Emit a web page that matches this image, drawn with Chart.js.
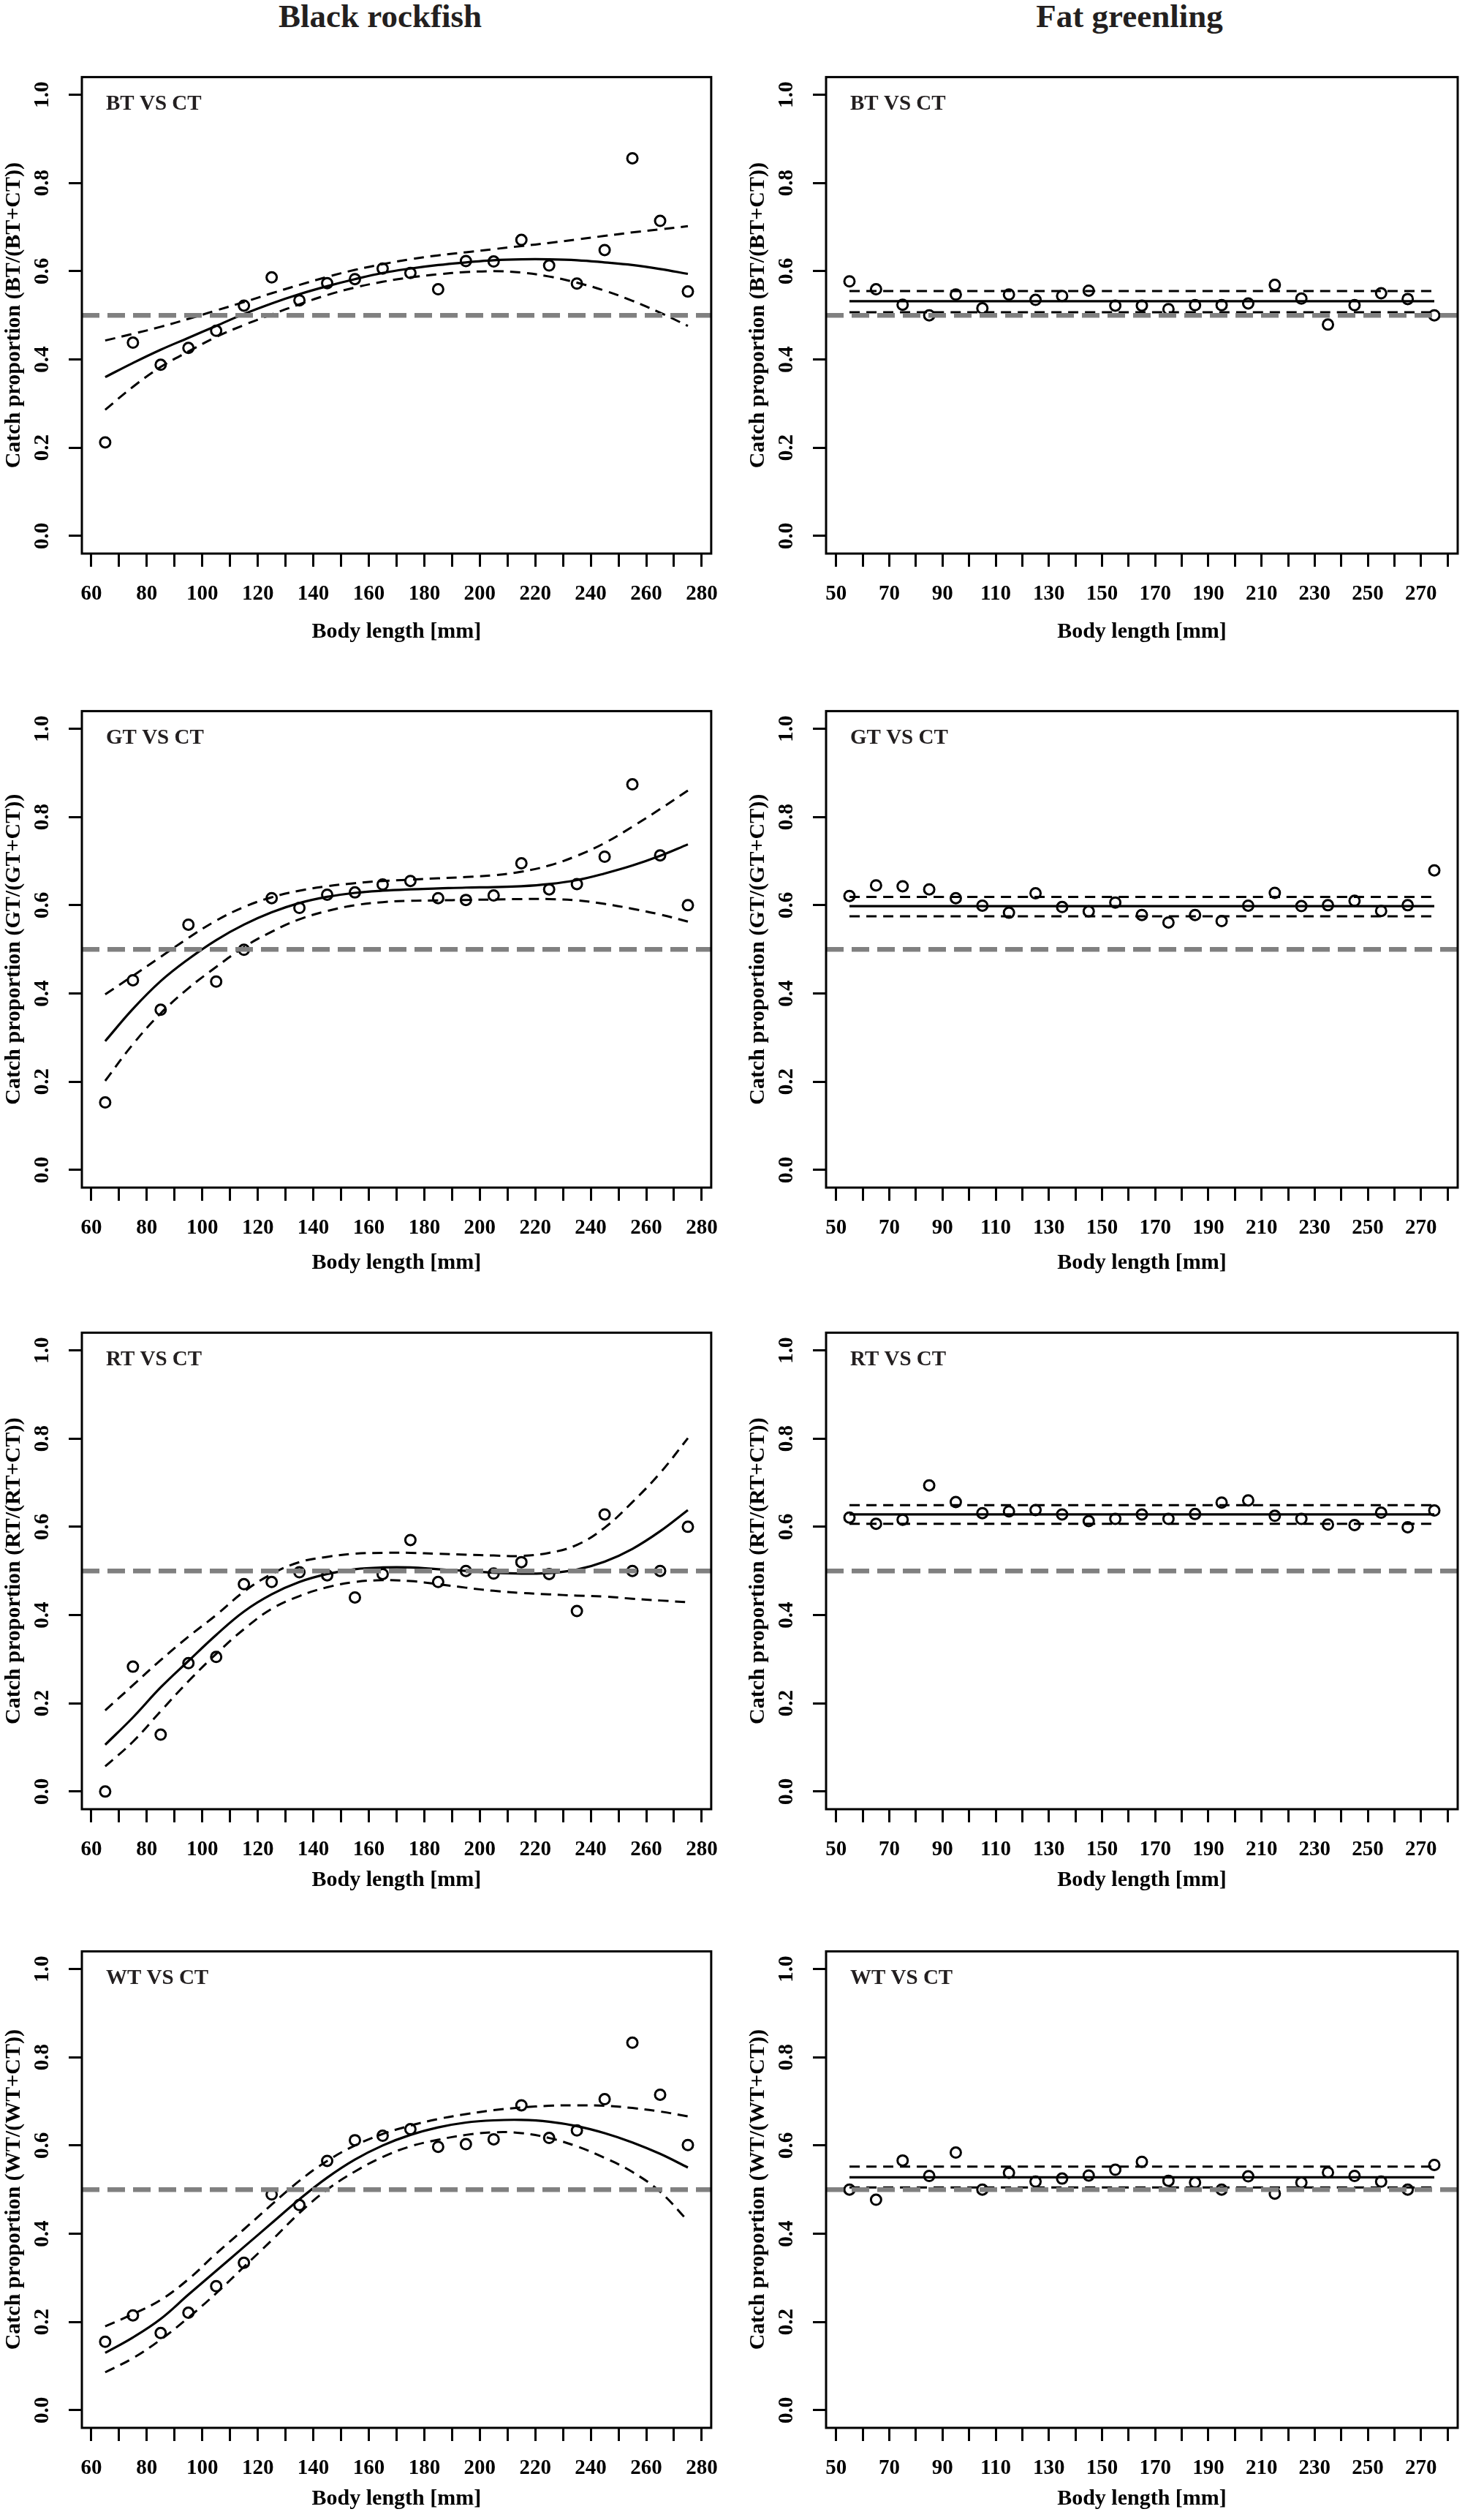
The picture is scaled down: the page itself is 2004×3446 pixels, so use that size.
<!DOCTYPE html>
<html>
<head>
<meta charset="utf-8">
<script src="https://cdn.jsdelivr.net/npm/chart.js@4.4.1/dist/chart.umd.min.js"></script>
<style>
  html, body { margin: 0; padding: 0; background: #fff; overflow: hidden; width: 2004px; height: 3446px; }
  canvas.panel { position: absolute; }
  .coltitle { position: absolute; top: 0; font: bold 45px/45px 'Liberation Serif', 'Times New Roman', serif;
              color: #231f20; white-space: nowrap; transform: translateX(-50%); }
</style>
</head>
<body>
<div class="coltitle" style="left:520px">Black rockfish</div>
<div class="coltitle" style="left:1545px">Fat greenling</div>
<script>
// body length classes (mm)
const lengthBR = [65, 75, 85, 95, 105, 115, 125, 135, 145, 155, 165, 175, 185, 195, 205, 215, 225, 235, 245, 255, 265, 275];
const lengthFG = [55, 65, 75, 85, 95, 105, 115, 125, 135, 145, 155, 165, 175, 185, 195, 205, 215, 225, 235, 245, 255, 265, 275];

// axis ticks
const xTicksBR = [60, 70, 80, 90, 100, 110, 120, 130, 140, 150, 160, 170, 180, 190, 200, 210, 220, 230, 240, 250, 260, 270, 280];
const xLabelsBR = [60, 80, 100, 120, 140, 160, 180, 200, 220, 240, 260, 280];
const xTicksFG = [50, 60, 70, 80, 90, 100, 110, 120, 130, 140, 150, 160, 170, 180, 190, 200, 210, 220, 230, 240, 250, 260, 270, 280];
const xLabelsFG = [50, 70, 90, 110, 130, 150, 170, 190, 210, 230, 250, 270];
const yTicks = [0, 0.2, 0.4, 0.6, 0.8, 1.0];

// Black rockfish - observed proportions, fitted curve and confidence band
const obsBR_BT = [0.212, 0.438, 0.388, 0.426, 0.465, 0.522, 0.586, 0.534, 0.573, 0.582, 0.606, 0.596, 0.559, 0.623, 0.622, 0.671, 0.613, 0.572, 0.648, 0.856, 0.714, 0.554];
const fitBR_BT = [0.360, 0.392, 0.422, 0.449, 0.476, 0.503, 0.527, 0.548, 0.566, 0.582, 0.596, 0.606, 0.614, 0.620, 0.625, 0.627, 0.627, 0.625, 0.620, 0.614, 0.605, 0.594];
const upBR_BT  = [0.443, 0.458, 0.474, 0.492, 0.511, 0.530, 0.550, 0.569, 0.587, 0.603, 0.616, 0.627, 0.636, 0.643, 0.650, 0.657, 0.664, 0.672, 0.680, 0.688, 0.695, 0.702];
const loBR_BT  = [0.286, 0.338, 0.383, 0.418, 0.451, 0.478, 0.502, 0.525, 0.546, 0.563, 0.576, 0.586, 0.593, 0.598, 0.600, 0.597, 0.588, 0.574, 0.556, 0.533, 0.506, 0.476];

const obsBR_GT = [0.153, 0.430, 0.363, 0.556, 0.427, 0.499, 0.616, 0.594, 0.624, 0.629, 0.647, 0.655, 0.616, 0.612, 0.622, 0.695, 0.636, 0.648, 0.710, 0.874, 0.713, 0.600];
const fitBR_GT = [0.292, 0.365, 0.428, 0.478, 0.521, 0.556, 0.584, 0.605, 0.619, 0.628, 0.633, 0.636, 0.638, 0.640, 0.641, 0.643, 0.648, 0.657, 0.672, 0.690, 0.712, 0.738];
const upBR_GT  = [0.398, 0.440, 0.483, 0.526, 0.565, 0.596, 0.618, 0.633, 0.643, 0.650, 0.655, 0.658, 0.661, 0.664, 0.668, 0.676, 0.690, 0.712, 0.741, 0.778, 0.818, 0.860];
const loBR_GT  = [0.202, 0.285, 0.355, 0.412, 0.460, 0.505, 0.540, 0.568, 0.587, 0.600, 0.607, 0.610, 0.611, 0.612, 0.613, 0.614, 0.614, 0.611, 0.603, 0.592, 0.579, 0.563];

const obsBR_RT = [0.000, 0.283, 0.129, 0.291, 0.305, 0.470, 0.475, 0.497, 0.490, 0.440, 0.493, 0.570, 0.475, 0.500, 0.494, 0.520, 0.493, 0.409, 0.628, 0.500, 0.500, 0.600];
const fitBR_RT = [0.106, 0.168, 0.236, 0.296, 0.355, 0.408, 0.447, 0.475, 0.493, 0.504, 0.508, 0.508, 0.504, 0.500, 0.496, 0.494, 0.495, 0.503, 0.521, 0.550, 0.590, 0.638];
const upBR_RT  = [0.184, 0.241, 0.298, 0.351, 0.400, 0.453, 0.493, 0.520, 0.532, 0.539, 0.541, 0.541, 0.539, 0.537, 0.535, 0.534, 0.541, 0.559, 0.598, 0.656, 0.722, 0.801];
const loBR_RT  = [0.057, 0.113, 0.182, 0.250, 0.312, 0.368, 0.414, 0.443, 0.463, 0.475, 0.479, 0.477, 0.470, 0.462, 0.455, 0.450, 0.447, 0.444, 0.442, 0.437, 0.433, 0.429];

const obsBR_WT = [0.155, 0.215, 0.175, 0.221, 0.281, 0.334, 0.489, 0.465, 0.565, 0.612, 0.622, 0.637, 0.597, 0.603, 0.614, 0.691, 0.617, 0.634, 0.705, 0.833, 0.715, 0.601];
const fitBR_WT = [0.130, 0.165, 0.207, 0.262, 0.316, 0.370, 0.424, 0.478, 0.527, 0.568, 0.600, 0.624, 0.641, 0.652, 0.657, 0.658, 0.654, 0.644, 0.628, 0.607, 0.581, 0.550];
const upBR_WT  = [0.190, 0.218, 0.250, 0.297, 0.355, 0.410, 0.466, 0.520, 0.565, 0.600, 0.626, 0.645, 0.660, 0.671, 0.680, 0.686, 0.690, 0.691, 0.690, 0.685, 0.677, 0.666];
const loBR_WT  = [0.086, 0.118, 0.160, 0.210, 0.265, 0.325, 0.385, 0.447, 0.500, 0.541, 0.574, 0.598, 0.613, 0.624, 0.630, 0.628, 0.617, 0.598, 0.572, 0.540, 0.495, 0.429];

// Fat greenling - observed proportions, constant fit (start, end) and band
const obsFG_BT = [0.577, 0.559, 0.524, 0.500, 0.547, 0.516, 0.547, 0.535, 0.544, 0.556, 0.522, 0.522, 0.514, 0.523, 0.523, 0.527, 0.569, 0.538, 0.479, 0.523, 0.550, 0.537, 0.500];
const fitFG_BT = [0.532, 0.532];
const upFG_BT  = [0.555, 0.555];
const loFG_BT  = [0.507, 0.507];

const obsFG_GT = [0.621, 0.645, 0.643, 0.636, 0.616, 0.599, 0.583, 0.627, 0.596, 0.586, 0.606, 0.578, 0.561, 0.578, 0.564, 0.599, 0.628, 0.598, 0.600, 0.610, 0.587, 0.600, 0.679];
const fitFG_GT = [0.598, 0.598];
const upFG_GT  = [0.619, 0.619];
const loFG_GT  = [0.575, 0.575];

const obsFG_RT = [0.621, 0.607, 0.616, 0.694, 0.656, 0.631, 0.635, 0.638, 0.628, 0.613, 0.618, 0.628, 0.618, 0.629, 0.655, 0.660, 0.625, 0.618, 0.605, 0.604, 0.632, 0.599, 0.637];
const fitFG_RT = [0.628, 0.628];
const upFG_RT  = [0.649, 0.649];
const loFG_RT  = [0.607, 0.607];

const obsFG_WT = [0.500, 0.477, 0.566, 0.531, 0.584, 0.500, 0.538, 0.518, 0.525, 0.532, 0.545, 0.563, 0.520, 0.516, 0.500, 0.530, 0.491, 0.516, 0.539, 0.531, 0.518, 0.500, 0.556];
const fitFG_WT = [0.528, 0.528];
const upFG_WT  = [0.552, 0.552];
const loFG_WT  = [0.505, 0.505];

const FONT = "'Liberation Serif', 'Times New Roman', serif";
const BOX_H = 676;
const AXIS_H = 130;
const PAD_TOP = 10;
const Y_AXIS_W = 112;

const columns = {
  BR: { left: 0, width: 1002, padRight: 20, xMin: 56.6, xMax: 283.4, lengths: lengthBR, ticks: xTicksBR, labels: xLabelsBR, flat: false },
  FG: { left: 1018, width: 986, padRight: 8, xMin: 46.2, xMax: 283.8, lengths: lengthFG, ticks: xTicksFG, labels: xLabelsFG, flat: true }
};

const rows = [
  { tag: 'BT', boxTop: 81,   titlePad: 5 },
  { tag: 'GT', boxTop: 948,  titlePad: 9 },
  { tag: 'RT', boxTop: 1798, titlePad: 15 },
  { tag: 'WT', boxTop: 2644, titlePad: 15 }
];

const series = {
  BR: {
    BT: [obsBR_BT, fitBR_BT, upBR_BT, loBR_BT], GT: [obsBR_GT, fitBR_GT, upBR_GT, loBR_GT],
    RT: [obsBR_RT, fitBR_RT, upBR_RT, loBR_RT], WT: [obsBR_WT, fitBR_WT, upBR_WT, loBR_WT]
  },
  FG: {
    BT: [obsFG_BT, fitFG_BT, upFG_BT, loFG_BT], GT: [obsFG_GT, fitFG_GT, upFG_GT, loFG_GT],
    RT: [obsFG_RT, fitFG_RT, upFG_RT, loFG_RT], WT: [obsFG_WT, fitFG_WT, upFG_WT, loFG_WT]
  }
};

function pts(xs, ys) {
  return xs.map((x, i) => ({ x: x, y: ys[i] }));
}

// plot box + "XX VS CT" tag inside the box
const boxPlugin = {
  id: 'rbox',
  afterDraw(chart, args, opts) {
    const a = chart.chartArea;
    const ctx = chart.ctx;
    ctx.save();
    ctx.lineWidth = 3;
    ctx.strokeStyle = '#000';
    ctx.strokeRect(a.left, a.top, a.right - a.left, a.bottom - a.top);
    ctx.font = 'bold 29px ' + FONT;
    ctx.fillStyle = '#231f20';
    ctx.textAlign = 'left';
    ctx.textBaseline = 'middle';
    ctx.fillText(opts.text, a.left + 33, a.top + 37);
    ctx.restore();
  }
};

function makePanel(colKey, row) {
  const col = columns[colKey];
  const [obs, fit, up, lo] = series[colKey][row.tag];
  const curveX = col.flat ? [col.lengths[0], col.lengths[col.lengths.length - 1]] : col.lengths;

  const canvas = document.createElement('canvas');
  canvas.className = 'panel';
  canvas.width = col.width;
  canvas.height = PAD_TOP + BOX_H + AXIS_H;
  canvas.style.left = col.left + 'px';
  canvas.style.top = (row.boxTop - PAD_TOP) + 'px';
  document.body.appendChild(canvas);

  const tickFont = { family: FONT, size: 29, weight: 'bold', lineHeight: 1.2 };
  const titleFont = { family: FONT, size: 30, weight: 'bold', lineHeight: 1.2 };
  const grid = { drawOnChartArea: false, drawTicks: true, tickLength: 18, tickWidth: 3, tickColor: '#000', color: '#000', lineWidth: 3 };

  new Chart(canvas, {
    type: 'scatter',
    data: {
      datasets: [
        { // 0.5 reference
          data: pts([col.xMin, col.xMax], [0.5, 0.5]),
          showLine: true, borderColor: '#808080', borderWidth: 6.5, borderDash: [24, 11],
          pointRadius: 0, order: 0
        },
        { // observed
          data: pts(col.lengths, obs),
          pointRadius: 7, pointBorderWidth: 3, pointBorderColor: '#000',
          pointBackgroundColor: 'rgba(0,0,0,0)', borderColor: '#000', order: 1
        },
        { // fitted
          data: pts(curveX, fit),
          showLine: true, borderColor: '#000', borderWidth: 3.2, tension: 0.4,
          pointRadius: 0, order: 2
        },
        { // upper band
          data: pts(curveX, up),
          showLine: true, borderColor: '#000', borderWidth: 3, borderDash: [14, 9], tension: 0.4,
          pointRadius: 0, order: 3
        },
        { // lower band
          data: pts(curveX, lo),
          showLine: true, borderColor: '#000', borderWidth: 3, borderDash: [14, 9], tension: 0.4,
          pointRadius: 0, order: 3
        }
      ]
    },
    options: {
      responsive: false,
      animation: false,
      devicePixelRatio: 1,
      layout: { padding: { top: PAD_TOP, right: col.padRight, left: 0, bottom: 0 } },
      plugins: {
        legend: { display: false },
        tooltip: { enabled: false },
        rbox: { text: row.tag + ' VS CT' }
      },
      scales: {
        x: {
          type: 'linear',
          min: col.xMin,
          max: col.xMax,
          afterBuildTicks: s => { s.ticks = col.ticks.map(v => ({ value: v })); },
          afterFit: s => { s.height = AXIS_H; },
          ticks: {
            autoSkip: false, minRotation: 0, maxRotation: 0, padding: 20,
            color: '#000', font: tickFont,
            callback: v => (col.labels.includes(v) ? String(v) : '')
          },
          grid: grid,
          border: { display: false },
          title: {
            display: true, text: 'Body length [mm]', color: '#000', font: titleFont,
            padding: { top: 0, bottom: row.titlePad }
          }
        },
        y: {
          type: 'linear',
          min: -0.04,
          max: 1.04,
          afterBuildTicks: s => { s.ticks = yTicks.map(v => ({ value: v })); },
          afterFit: s => { s.width = Y_AXIS_W; },
          ticks: {
            autoSkip: false, minRotation: 90, maxRotation: 90, crossAlign: 'center', padding: 17,
            color: '#000', font: tickFont,
            callback: v => Number(v).toFixed(1)
          },
          grid: grid,
          border: { display: false },
          title: {
            display: true, text: 'Catch proportion (' + row.tag + '/(' + row.tag + '+CT))',
            color: '#000', font: titleFont, padding: { top: 1, bottom: 0 }
          }
        }
      }
    },
    plugins: [boxPlugin]
  });
}

rows.forEach(row => {
  makePanel('BR', row);
  makePanel('FG', row);
});
</script>
</body>
</html>
